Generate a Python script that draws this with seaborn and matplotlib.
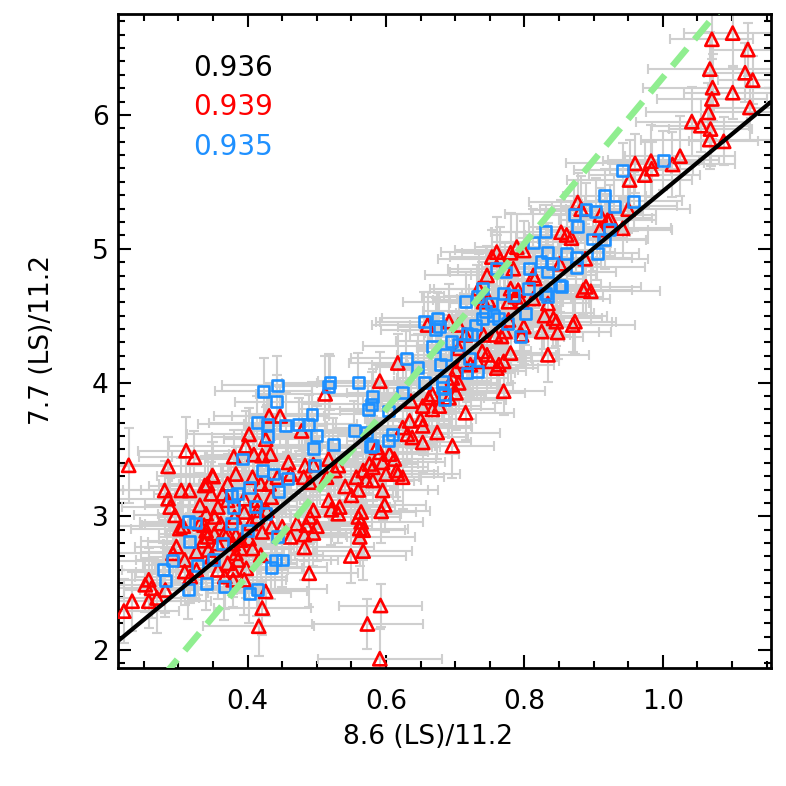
import numpy as np
import pandas as pd
import matplotlib
matplotlib.use("Agg")
import matplotlib.pyplot as plt
import seaborn as sns
from matplotlib.ticker import MultipleLocator, FormatStrFormatter

# ---------------- data (x, y, xerr, yerr) ----------------
red_points = [
    (1.071, 6.566, 0.06, 0.22), (1.101, 6.612, 0.07, 0.25), (1.123, 6.489, 0.05, 0.20), (1.068, 6.343, 0.09, 0.28),
    (1.119, 6.316, 0.06, 0.22), (1.130, 6.261, 0.05, 0.18), (1.072, 6.204, 0.10, 0.25), (1.071, 6.120, 0.08, 0.30),
    (1.101, 6.167, 0.07, 0.20), (1.066, 6.019, 0.09, 0.22), (1.126, 6.056, 0.06, 0.24), (1.042, 5.950, 0.08, 0.26),
    (1.055, 5.920, 0.07, 0.20), (1.069, 5.895, 0.06, 0.28), (1.068, 5.816, 0.10, 0.22), (1.088, 5.803, 0.05, 0.18),
    (1.025, 5.692, 0.08, 0.30), (1.014, 5.630, 0.09, 0.24), (0.983, 5.655, 0.07, 0.27), (0.960, 5.638, 0.10, 0.22),
    (0.984, 5.598, 0.06, 0.20), (0.974, 5.551, 0.08, 0.25), (0.952, 5.514, 0.09, 0.30), (0.877, 5.346, 0.07, 0.22),
    (0.910, 5.252, 0.08, 0.20), (0.924, 5.227, 0.06, 0.25), (0.950, 5.296, 0.09, 0.18), (0.942, 5.153, 0.07, 0.22),
    (0.853, 5.123, 0.10, 0.24), (0.861, 5.103, 0.06, 0.20), (0.868, 5.079, 0.08, 0.28), (0.909, 5.143, 0.07, 0.22),
    (0.888, 4.925, 0.09, 0.26), (0.851, 4.888, 0.06, 0.20), (0.889, 4.715, 0.08, 0.22), (0.885, 4.690, 0.07, 0.18),
    (0.896, 4.682, 0.10, 0.25), (0.920, 5.213, 0.07, 0.20), (0.760, 4.975, 0.08, 0.26), (0.753, 4.938, 0.06, 0.20),
    (0.765, 4.920, 0.09, 0.24), (0.780, 4.970, 0.07, 0.30), (0.799, 4.987, 0.10, 0.22), (0.789, 5.012, 0.06, 0.25),
    (0.784, 4.851, 0.08, 0.20), (0.815, 4.777, 0.07, 0.22), (0.813, 4.801, 0.09, 0.28), (0.791, 4.690, 0.06, 0.20),
    (0.787, 4.641, 0.08, 0.24), (0.777, 4.604, 0.07, 0.22), (0.813, 4.628, 0.11, 0.26), (0.834, 4.591, 0.06, 0.20),
    (0.829, 4.500, 0.09, 0.25), (0.842, 4.479, 0.07, 0.22), (0.846, 4.455, 0.08, 0.18), (0.873, 4.455, 0.06, 0.24),
    (0.870, 4.430, 0.09, 0.20), (0.799, 4.418, 0.07, 0.28), (0.825, 4.381, 0.10, 0.22), (0.848, 4.374, 0.06, 0.20),
    (0.777, 4.468, 0.08, 0.25), (0.772, 4.381, 0.07, 0.22), (0.767, 4.344, 0.09, 0.26), (0.758, 4.356, 0.06, 0.20),
    (0.741, 4.356, 0.08, 0.24), (0.739, 4.232, 0.07, 0.22), (0.746, 4.207, 0.10, 0.28), (0.751, 4.158, 0.06, 0.20),
    (0.763, 4.133, 0.08, 0.25), (0.780, 4.220, 0.07, 0.22), (0.834, 4.207, 0.06, 0.20), (0.722, 4.133, 0.09, 0.24),
    (0.732, 4.158, 0.07, 0.22), (0.770, 4.158, 0.08, 0.18), (0.760, 4.108, 0.06, 0.26), (0.701, 4.096, 0.09, 0.22),
    (0.710, 4.158, 0.07, 0.20), (0.696, 4.034, 0.08, 0.25), (0.705, 3.997, 0.06, 0.22), (0.701, 3.923, 0.10, 0.28),
    (0.715, 3.774, 0.07, 0.20), (0.770, 3.935, 0.06, 0.18), (0.662, 3.886, 0.08, 0.24), (0.653, 3.824, 0.07, 0.22),
    (0.667, 3.799, 0.09, 0.26), (0.677, 3.824, 0.06, 0.20), (0.691, 3.886, 0.08, 0.22), (0.636, 3.861, 0.07, 0.25),
    (0.591, 4.010, 0.09, 0.22), (0.634, 3.713, 0.06, 0.20), (0.650, 3.725, 0.08, 0.24), (0.653, 3.676, 0.07, 0.22),
    (0.624, 3.663, 0.10, 0.28), (0.631, 3.613, 0.06, 0.20), (0.638, 3.589, 0.08, 0.25), (0.653, 3.552, 0.07, 0.22),
    (0.674, 3.626, 0.09, 0.20), (0.696, 3.527, 0.06, 0.24), (0.586, 3.515, 0.08, 0.22), (0.591, 3.477, 0.07, 0.26),
    (0.605, 3.465, 0.10, 0.20), (0.612, 3.428, 0.06, 0.22), (0.581, 3.366, 0.08, 0.25), (0.600, 3.316, 0.07, 0.22),
    (0.617, 3.316, 0.09, 0.20), (0.624, 3.292, 0.06, 0.24), (0.595, 3.193, 0.08, 0.22), (0.796, 4.356, 0.07, 0.20),
    (0.882, 5.296, 0.06, 0.25), (0.746, 4.801, 0.09, 0.22), (0.734, 4.702, 0.07, 0.26), (0.741, 4.604, 0.08, 0.20),
    (0.780, 4.702, 0.06, 0.22), (0.691, 4.455, 0.10, 0.28), (0.705, 4.430, 0.07, 0.22), (0.715, 4.356, 0.08, 0.20),
    (0.705, 4.255, 0.06, 0.24), (0.693, 3.984, 0.09, 0.22), (0.667, 3.910, 0.07, 0.20), (0.748, 4.617, 0.08, 0.25),
    (0.796, 4.604, 0.06, 0.22), (0.592, 2.333, 0.06, 0.16), (0.573, 2.195, 0.08, 0.19), (0.591, 1.935, 0.09, 0.22),
    (0.489, 2.574, 0.07, 0.25), (0.549, 2.703, 0.08, 0.20), (0.567, 2.740, 0.07, 0.22), (0.482, 2.767, 0.10, 0.24),
    (0.482, 2.863, 0.06, 0.20), (0.562, 2.846, 0.08, 0.22), (0.562, 2.908, 0.07, 0.18), (0.564, 2.958, 0.09, 0.25),
    (0.560, 2.995, 0.06, 0.20), (0.564, 3.032, 0.08, 0.22), (0.593, 3.037, 0.07, 0.24), (0.598, 3.086, 0.06, 0.20),
    (0.531, 3.019, 0.09, 0.22), (0.521, 3.049, 0.07, 0.26), (0.517, 3.119, 0.08, 0.20), (0.550, 3.156, 0.06, 0.22),
    (0.560, 3.197, 0.10, 0.25), (0.541, 3.223, 0.07, 0.20), (0.571, 3.272, 0.08, 0.22), (0.495, 3.044, 0.06, 0.24),
    (0.490, 2.995, 0.09, 0.20), (0.485, 2.933, 0.07, 0.22), (0.500, 2.926, 0.08, 0.26), (0.615, 3.342, 0.06, 0.20),
    (0.576, 3.391, 0.07, 0.22), (0.595, 3.403, 0.09, 0.24), (0.421, 2.314, 0.07, 0.20), (0.416, 2.178, 0.08, 0.22),
    (0.426, 2.438, 0.06, 0.18), (0.512, 3.915, 0.10, 0.28), (0.431, 3.750, 0.08, 0.25), (0.447, 3.750, 0.07, 0.22),
    (0.402, 3.613, 0.09, 0.20), (0.426, 3.576, 0.06, 0.24), (0.478, 3.638, 0.08, 0.22), (0.397, 3.527, 0.11, 0.26),
    (0.409, 3.461, 0.07, 0.20), (0.421, 3.453, 0.08, 0.22), (0.433, 3.465, 0.06, 0.25), (0.380, 3.445, 0.09, 0.20),
    (0.459, 3.403, 0.07, 0.22), (0.483, 3.379, 0.10, 0.24), (0.462, 3.316, 0.06, 0.20), (0.443, 3.292, 0.08, 0.22),
    (0.407, 3.292, 0.07, 0.26), (0.419, 3.242, 0.09, 0.20), (0.431, 3.242, 0.06, 0.22), (0.349, 3.304, 0.08, 0.25),
    (0.342, 3.242, 0.07, 0.20), (0.364, 3.168, 0.10, 0.22), (0.347, 3.168, 0.06, 0.24), (0.481, 3.292, 0.08, 0.20),
    (0.490, 3.255, 0.07, 0.22), (0.514, 3.292, 0.09, 0.26), (0.526, 3.342, 0.06, 0.20), (0.531, 3.379, 0.08, 0.22),
    (0.567, 3.342, 0.07, 0.24), (0.581, 3.267, 0.06, 0.20), (0.557, 3.292, 0.09, 0.22), (0.495, 2.875, 0.07, 0.25),
    (0.533, 3.069, 0.08, 0.20), (0.567, 2.896, 0.06, 0.22), (0.414, 3.044, 0.10, 0.24), (0.428, 3.044, 0.07, 0.20),
    (0.414, 2.995, 0.08, 0.22), (0.435, 2.921, 0.06, 0.26), (0.404, 2.946, 0.09, 0.20), (0.421, 2.883, 0.07, 0.22),
    (0.450, 2.921, 0.08, 0.24), (0.462, 2.846, 0.06, 0.20), (0.471, 2.946, 0.10, 0.22), (0.340, 3.019, 0.07, 0.25),
    (0.352, 2.995, 0.08, 0.20), (0.361, 2.945, 0.06, 0.22), (0.337, 2.933, 0.09, 0.24), (0.342, 2.846, 0.07, 0.20),
    (0.352, 2.871, 0.08, 0.22), (0.366, 2.871, 0.06, 0.26), (0.383, 2.859, 0.10, 0.20), (0.390, 2.822, 0.07, 0.22),
    (0.357, 2.796, 0.08, 0.24), (0.228, 3.381, 0.06, 0.28), (0.285, 3.373, 0.09, 0.22), (0.311, 3.490, 0.07, 0.25),
    (0.323, 3.441, 0.08, 0.20), (0.280, 3.193, 0.06, 0.22), (0.304, 3.193, 0.10, 0.24), (0.316, 3.193, 0.07, 0.20),
    (0.338, 3.230, 0.08, 0.22), (0.350, 3.297, 0.06, 0.26), (0.285, 3.131, 0.09, 0.20), (0.288, 3.069, 0.07, 0.22),
    (0.331, 3.082, 0.08, 0.24), (0.295, 3.007, 0.06, 0.20), (0.307, 2.926, 0.10, 0.22), (0.302, 2.908, 0.07, 0.25),
    (0.331, 2.946, 0.08, 0.20), (0.340, 2.891, 0.06, 0.22), (0.336, 2.817, 0.09, 0.24), (0.357, 3.069, 0.07, 0.20),
    (0.371, 3.119, 0.08, 0.22), (0.297, 2.773, 0.06, 0.26), (0.292, 2.723, 0.10, 0.20), (0.309, 2.674, 0.07, 0.22),
    (0.326, 2.735, 0.08, 0.24), (0.343, 2.748, 0.06, 0.20), (0.348, 2.698, 0.09, 0.22), (0.309, 2.587, 0.07, 0.25),
    (0.317, 2.549, 0.08, 0.20), (0.326, 2.599, 0.06, 0.22), (0.257, 2.525, 0.10, 0.24), (0.252, 2.488, 0.07, 0.20),
    (0.261, 2.463, 0.08, 0.22), (0.269, 2.389, 0.06, 0.26), (0.257, 2.365, 0.09, 0.20), (0.233, 2.365, 0.07, 0.22),
    (0.221, 2.291, 0.08, 0.24), (0.281, 2.449, 0.06, 0.20), (0.371, 2.648, 0.10, 0.22), (0.386, 2.673, 0.07, 0.25),
    (0.379, 2.599, 0.08, 0.20), (0.357, 2.599, 0.06, 0.22), (0.367, 2.549, 0.09, 0.24), (0.379, 2.525, 0.07, 0.20),
    (0.398, 2.611, 0.08, 0.22), (0.395, 2.525, 0.06, 0.26), (0.383, 3.316, 0.10, 0.20), (0.371, 3.242, 0.07, 0.22),
    (0.395, 3.131, 0.08, 0.24), (0.395, 3.032, 0.06, 0.20), (0.414, 3.119, 0.09, 0.22), (0.434, 3.143, 0.07, 0.25),
    (0.381, 2.995, 0.08, 0.20), (0.371, 2.871, 0.06, 0.22), (0.379, 2.796, 0.10, 0.24), (0.390, 2.759, 0.07, 0.20),
    (0.402, 2.833, 0.08, 0.22), (0.407, 2.759, 0.06, 0.26), (0.419, 2.710, 0.09, 0.20), (0.383, 2.723, 0.07, 0.22),
    (0.495, 3.386, 0.08, 0.24), (0.517, 3.428, 0.06, 0.20), (0.617, 4.146, 0.07, 0.22), (0.660, 4.430, 0.08, 0.25),
]

blue_points = [
    (0.942, 5.588, 0.07, 0.20), (1.001, 5.660, 0.08, 0.22), (0.916, 5.395, 0.06, 0.20), (0.930, 5.316, 0.09, 0.24),
    (0.958, 5.356, 0.07, 0.22), (0.889, 5.291, 0.08, 0.20), (0.903, 5.282, 0.06, 0.25), (0.872, 5.259, 0.10, 0.22),
    (0.877, 5.166, 0.07, 0.20), (0.899, 5.073, 0.08, 0.24), (0.916, 5.068, 0.06, 0.22), (0.923, 5.143, 0.09, 0.20),
    (0.861, 4.967, 0.07, 0.25), (0.875, 4.932, 0.08, 0.22), (0.905, 4.967, 0.06, 0.20), (0.875, 4.863, 0.10, 0.24),
    (0.853, 4.715, 0.07, 0.22), (0.831, 5.128, 0.08, 0.20), (0.813, 5.049, 0.06, 0.25), (0.834, 4.975, 0.09, 0.22),
    (0.841, 4.888, 0.07, 0.20), (0.824, 4.905, 0.08, 0.24), (0.807, 4.851, 0.06, 0.22), (0.833, 4.826, 0.10, 0.20),
    (0.760, 4.851, 0.07, 0.25), (0.772, 4.826, 0.08, 0.22), (0.851, 4.727, 0.06, 0.20), (0.806, 4.702, 0.09, 0.24),
    (0.830, 4.665, 0.07, 0.22), (0.834, 4.641, 0.08, 0.20), (0.770, 4.665, 0.06, 0.25), (0.784, 4.648, 0.10, 0.22),
    (0.739, 4.702, 0.07, 0.20), (0.732, 4.641, 0.08, 0.24), (0.753, 4.591, 0.06, 0.22), (0.744, 4.534, 0.09, 0.20),
    (0.739, 4.480, 0.07, 0.25), (0.756, 4.504, 0.08, 0.22), (0.763, 4.480, 0.06, 0.20), (0.801, 4.517, 0.10, 0.24),
    (0.775, 4.442, 0.07, 0.22), (0.729, 4.430, 0.08, 0.20), (0.724, 4.356, 0.06, 0.25), (0.794, 4.344, 0.09, 0.22),
    (0.732, 4.084, 0.07, 0.20), (0.672, 4.393, 0.08, 0.24), (0.717, 4.368, 0.06, 0.22), (0.667, 4.270, 0.10, 0.20),
    (0.686, 4.207, 0.07, 0.25), (0.695, 4.307, 0.08, 0.22), (0.705, 4.281, 0.06, 0.20), (0.720, 4.183, 0.09, 0.24),
    (0.717, 4.071, 0.07, 0.22), (0.629, 4.183, 0.08, 0.20), (0.646, 4.114, 0.06, 0.25), (0.679, 4.133, 0.10, 0.22),
    (0.681, 4.010, 0.07, 0.20), (0.681, 3.960, 0.08, 0.24), (0.684, 3.910, 0.06, 0.22), (0.684, 3.873, 0.09, 0.20),
    (0.655, 3.997, 0.07, 0.25), (0.624, 3.923, 0.08, 0.22), (0.581, 3.898, 0.06, 0.20), (0.579, 3.836, 0.10, 0.24),
    (0.603, 3.787, 0.07, 0.22), (0.610, 3.613, 0.08, 0.20), (0.603, 3.564, 0.06, 0.25), (0.581, 3.527, 0.09, 0.22),
    (0.519, 3.997, 0.07, 0.20), (0.517, 3.973, 0.08, 0.24), (0.560, 3.997, 0.06, 0.22), (0.574, 3.799, 0.10, 0.20),
    (0.423, 3.935, 0.07, 0.25), (0.443, 3.980, 0.08, 0.22), (0.442, 3.856, 0.06, 0.20), (0.493, 3.762, 0.09, 0.24),
    (0.488, 3.687, 0.07, 0.22), (0.474, 3.687, 0.08, 0.20), (0.455, 3.676, 0.06, 0.25), (0.428, 3.687, 0.10, 0.22),
    (0.414, 3.700, 0.07, 0.20), (0.428, 3.594, 0.08, 0.24), (0.500, 3.601, 0.06, 0.22), (0.524, 3.535, 0.09, 0.20),
    (0.495, 3.509, 0.07, 0.25), (0.554, 3.643, 0.08, 0.22), (0.572, 3.626, 0.06, 0.20), (0.578, 3.520, 0.10, 0.24),
    (0.392, 3.428, 0.07, 0.22), (0.497, 3.379, 0.08, 0.20), (0.421, 3.342, 0.06, 0.25), (0.438, 3.316, 0.09, 0.22),
    (0.457, 3.279, 0.07, 0.20), (0.445, 3.188, 0.08, 0.24), (0.402, 3.217, 0.06, 0.22), (0.385, 3.168, 0.10, 0.20),
    (0.376, 3.156, 0.07, 0.25), (0.380, 3.069, 0.08, 0.22), (0.411, 3.074, 0.06, 0.20), (0.426, 3.019, 0.09, 0.24),
    (0.376, 2.945, 0.07, 0.22), (0.400, 2.896, 0.08, 0.20), (0.364, 2.796, 0.06, 0.25), (0.443, 2.846, 0.10, 0.22),
    (0.315, 2.960, 0.07, 0.20), (0.325, 2.950, 0.08, 0.24), (0.316, 2.808, 0.06, 0.22), (0.292, 2.667, 0.09, 0.20),
    (0.350, 2.676, 0.07, 0.25), (0.328, 2.635, 0.08, 0.22), (0.278, 2.599, 0.06, 0.20), (0.281, 2.520, 0.10, 0.24),
    (0.314, 2.451, 0.07, 0.22), (0.340, 2.500, 0.08, 0.20), (0.366, 2.475, 0.06, 0.25), (0.440, 2.673, 0.09, 0.22),
    (0.450, 2.673, 0.07, 0.20), (0.434, 2.618, 0.08, 0.24), (0.402, 2.425, 0.06, 0.22), (0.414, 2.455, 0.10, 0.20),
    (0.655, 4.455, 0.07, 0.22), (0.674, 4.479, 0.08, 0.20), (0.677, 4.418, 0.06, 0.25), (0.715, 4.604, 0.09, 0.22),
]

corr_labels = ["0.936", "0.939", "0.935"]
corr_colors = ["#000000", "#FF0000", "#1E90FF"]

fit_slope, fit_intercept = 4.27, 1.16        # black solid line
ref_slope, ref_intercept = 6.2, 0.08          # light-green dashed line

x_limits = (0.213, 1.156)
y_limits = (1.868, 6.755)
x_label = "8.6 (LS)/11.2"
y_label = "7.7 (LS)/11.2"

# ---------------- build tables ----------------
red_df = pd.DataFrame(red_points, columns=["x", "y", "xerr", "yerr"])
blue_df = pd.DataFrame(blue_points, columns=["x", "y", "xerr", "yerr"])

sns.set_theme(style="white")
plt.rcParams["font.family"] = ["DejaVu Sans"]
plt.rcParams["text.color"] = "black"
plt.rcParams["axes.labelcolor"] = "black"
plt.rcParams["xtick.color"] = "black"
plt.rcParams["ytick.color"] = "black"

W = 786
fig = plt.figure(figsize=(7.86, 7.86), dpi=100)
ax = fig.add_axes([118.3 / W, 1 - 667.7 / W, (770.7 - 118.3) / W, (667.7 - 14) / W])

gray = "#CFCFCF"
for df in (red_df, blue_df):
    ax.errorbar(df["x"], df["y"], xerr=df["xerr"], yerr=df["yerr"], fmt="none",
                ecolor=gray, elinewidth=1.5, capsize=3.5, capthick=1.5, zorder=1)

sns.scatterplot(data=red_df, x="x", y="y", marker="^", s=90, facecolors="none",
                edgecolor="#FF0000", linewidth=1.9, ax=ax, zorder=3)
sns.scatterplot(data=blue_df, x="x", y="y", marker="s", s=62, facecolors="none",
                edgecolor="#1E90FF", linewidth=1.9, ax=ax, zorder=4)

line_x = np.array(x_limits)
sns.lineplot(x=line_x, y=ref_intercept + ref_slope * line_x, color="#90EE90", lw=4.7,
             linestyle=(0, (3.5, 1.8)), ax=ax, zorder=5)
sns.lineplot(x=line_x, y=fit_intercept + fit_slope * line_x, color="black", lw=3.0,
             ax=ax, zorder=6)

ax.set_xlim(*x_limits)
ax.set_ylim(*y_limits)
ax.xaxis.set_major_locator(MultipleLocator(0.2))
ax.xaxis.set_minor_locator(MultipleLocator(0.05))
ax.yaxis.set_major_locator(MultipleLocator(1))
ax.yaxis.set_minor_locator(MultipleLocator(0.1))
ax.xaxis.set_major_formatter(FormatStrFormatter("%.1f"))
ax.yaxis.set_major_formatter(FormatStrFormatter("%d"))

ax.tick_params(which="both", direction="in", top=True, right=True, bottom=True, left=True,
               width=1.5, colors="black", labelsize=19, labelcolor="black")
ax.tick_params(which="major", length=9.6)
ax.tick_params(which="minor", length=4.8)
ax.tick_params(axis="x", which="major", pad=15)
ax.tick_params(axis="y", which="major", pad=7)
for sp in ax.spines.values():
    sp.set_linewidth(2.0)
    sp.set_color("black")
ax.set_xlabel("")
ax.set_ylabel("")

fig.text(428 / W, 1 - 737 / W, x_label, ha="center", va="center", fontsize=19, color="black")
fig.text(42 / W, 1 - 340 / W, y_label, ha="center", va="center", rotation=90, fontsize=19,
         color="black")

for lab, col, yf in zip(corr_labels, corr_colors, [0.917, 0.858, 0.797]):
    ax.text(0.1145, yf, lab, color=col, fontsize=20, ha="left", va="center",
            transform=ax.transAxes)

fig.savefig("out.png", dpi=100, facecolor="white")
